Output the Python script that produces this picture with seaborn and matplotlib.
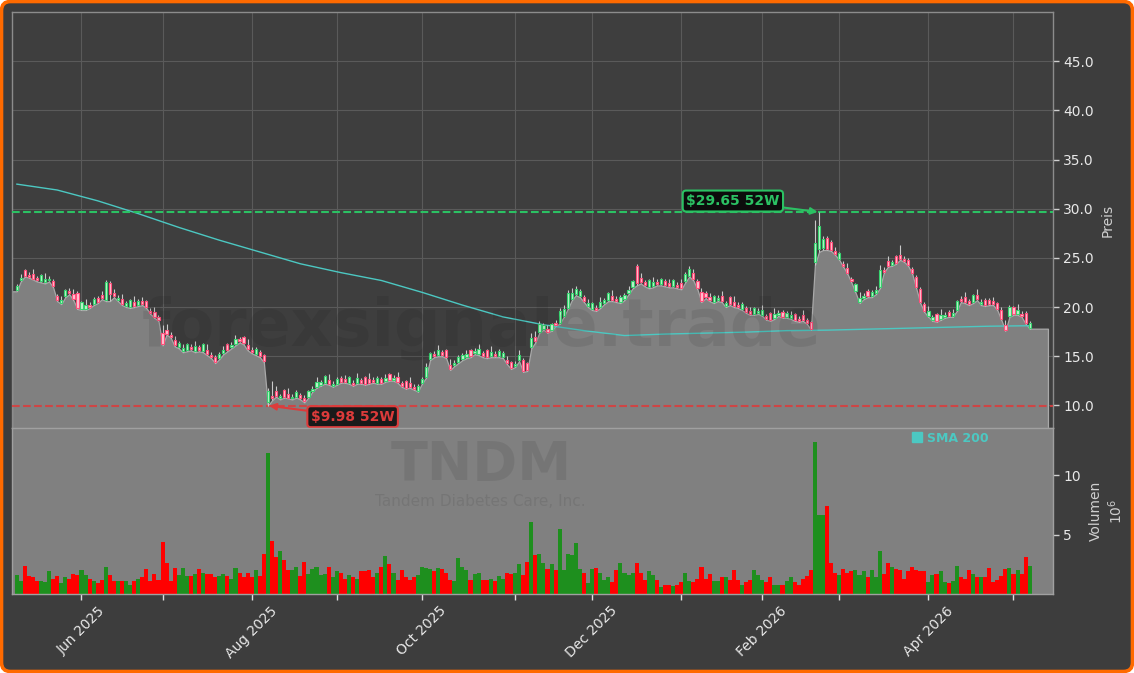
import numpy as np
import pandas as pd
import matplotlib
matplotlib.use("Agg")
import matplotlib.pyplot as plt
import seaborn as sns
from matplotlib.patches import FancyBboxPatch
from matplotlib.lines import Line2D
from matplotlib.ticker import FormatStrFormatter

# trading days (NYSE holidays removed)
start_day = "2025-05-08"
end_day = "2026-05-07"
market_holidays = ["2025-05-26", "2025-06-19", "2025-07-04", "2025-09-01", "2025-11-27",
                   "2025-12-25", "2026-01-01", "2026-01-19", "2026-02-16", "2026-04-03"]

lows = [21.6, 22.6, 23.1, 23.0, 22.8, 22.6, 22.5, 22.4, 22.6, 22.0,
        20.6, 20.3, 21.0, 21.3, 20.7, 19.8, 19.7, 19.7, 19.9, 20.2,
        20.4, 20.8, 20.6, 20.6, 21.0, 20.6, 20.2, 20.0, 19.9, 20.0,
        20.1, 20.2, 19.9, 19.3, 18.9, 18.6, 16.1, 17.2, 16.9, 16.0,
        15.8, 15.4, 15.5, 15.6, 15.4, 15.5, 15.4, 15.1, 14.8, 14.3,
        14.7, 15.2, 15.5, 15.8, 16.1, 16.4, 16.2, 15.6, 15.3, 15.1,
        14.9, 14.4, 9.98, 10.5, 10.9, 10.6, 10.8, 10.7, 10.6, 10.8,
        10.6, 10.3, 10.8, 11.4, 11.8, 12.0, 12.2, 12.1, 11.9, 12.1,
        12.3, 12.3, 12.2, 12.0, 12.2, 12.2, 12.1, 12.2, 12.3, 12.2,
        12.2, 12.4, 12.5, 12.5, 12.3, 11.9, 11.7, 11.8, 11.6, 11.4,
        12.2, 12.8, 14.6, 14.9, 15.0, 15.0, 14.8, 13.6, 14.0, 14.3,
        14.6, 14.8, 14.9, 15.2, 15.1, 14.9, 14.8, 14.9, 14.9, 14.9,
        14.8, 14.2, 13.7, 13.9, 14.5, 13.4, 13.5, 15.8, 16.4, 17.4,
        17.7, 17.4, 17.6, 18.1, 18.3, 19.0, 19.8, 20.7, 21.2, 21.0,
        20.5, 20.0, 19.7, 19.6, 19.9, 20.3, 20.6, 20.6, 20.5, 20.4,
        20.7, 21.3, 21.9, 22.2, 22.4, 22.1, 21.9, 22.0, 22.2, 22.2,
        22.1, 22.0, 22.0, 21.9, 21.8, 22.5, 23.1, 22.7, 21.8, 20.5,
        20.9, 20.6, 20.4, 20.6, 20.5, 20.0, 20.2, 20.0, 19.9, 19.7,
        19.4, 19.2, 19.2, 19.3, 19.1, 18.7, 18.6, 18.8, 19.1, 18.9,
        18.9, 18.8, 18.6, 18.5, 18.6, 18.3, 17.7, 24.3, 25.6, 25.8,
        25.8, 25.7, 25.3, 24.8, 24.1, 23.4, 22.5, 21.5, 20.4, 20.8,
        21.0, 21.0, 21.3, 21.9, 23.5, 24.1, 24.2, 24.4, 24.8, 24.6,
        24.2, 23.4, 21.9, 20.4, 19.5, 19.0, 18.6, 18.5, 18.7, 18.9,
        19.0, 19.0, 19.6, 20.5, 20.4, 20.2, 20.4, 20.7, 20.2, 20.1,
        20.2, 20.2, 19.7, 18.7, 17.6, 19.0, 19.2, 19.2, 19.0, 18.3, 17.8]

opens = [21.7, 22.7, 23.8, 23.3, 23.4, 23.0, 22.6, 22.5, 22.7, 22.6,
         21.1, 20.4, 21.1, 21.6, 21.3, 21.4, 19.8, 19.8, 20.2, 20.3,
         20.9, 21.2, 20.7, 22.4, 21.4, 20.7, 20.8, 20.1, 20.0, 20.5,
         20.2, 20.6, 20.6, 19.6, 19.5, 19.0, 17.4, 17.7, 17.2, 16.6,
         15.9, 15.5, 15.6, 15.9, 15.5, 15.9, 15.5, 15.6, 15.1, 14.9,
         14.8, 15.3, 16.2, 15.9, 16.2, 16.8, 17.0, 16.1, 15.6, 15.2,
         15.4, 15.1, 10.3, 11.0, 11.5, 10.7, 11.6, 11.2, 10.7, 10.9,
         11.1, 10.7, 10.9, 11.5, 11.9, 12.1, 12.3, 12.6, 12.0, 12.2,
         12.8, 12.7, 12.3, 12.3, 12.3, 12.6, 12.9, 12.7, 12.6, 12.3,
         12.7, 12.5, 13.2, 12.6, 12.9, 12.3, 12.5, 12.3, 11.9, 11.5,
         12.3, 12.9, 14.7, 15.2, 15.1, 15.4, 15.6, 14.1, 14.1, 14.4,
         14.7, 14.9, 15.6, 15.3, 15.2, 15.3, 15.6, 15.0, 15.2, 15.0,
         14.9, 14.6, 14.4, 14.0, 14.6, 14.6, 14.3, 15.9, 17.0, 17.5,
         17.8, 17.8, 17.7, 18.4, 18.4, 19.1, 19.9, 20.8, 21.3, 21.1,
         21.0, 20.1, 19.8, 19.9, 20.0, 20.4, 20.7, 21.1, 20.8, 20.5,
         20.8, 21.4, 22.0, 24.2, 23.0, 22.5, 22.0, 22.1, 22.5, 22.3,
         22.6, 22.4, 22.1, 22.2, 22.4, 22.6, 23.2, 23.5, 22.6, 21.5,
         21.4, 21.0, 20.5, 20.7, 21.1, 20.1, 21.0, 20.5, 20.2, 19.8,
         19.9, 19.6, 19.3, 19.4, 19.2, 19.1, 19.4, 18.9, 19.2, 19.5,
         19.0, 18.9, 19.3, 18.8, 19.2, 18.7, 18.5, 24.6, 25.9, 26.0,
         27.0, 26.6, 25.7, 24.9, 24.4, 24.0, 22.9, 21.6, 20.5, 20.9,
         21.6, 21.1, 21.4, 22.0, 23.8, 24.7, 24.3, 25.2, 25.3, 24.9,
         24.8, 23.9, 23.1, 21.8, 20.3, 19.1, 18.7, 19.3, 18.8, 19.0,
         19.5, 19.1, 19.7, 20.8, 21.0, 20.6, 20.5, 21.2, 20.3, 20.7,
         20.7, 20.6, 20.4, 19.7, 18.2, 19.1, 20.0, 19.3, 19.3, 19.4, 17.9]

closes = [22.1, 23.0, 23.2, 23.1, 22.9, 22.7, 23.3, 22.9, 22.9, 22.1,
          20.7, 20.7, 21.7, 21.4, 20.8, 19.9, 20.5, 20.2, 20.0, 20.8,
          20.5, 20.9, 22.5, 21.3, 21.1, 20.9, 20.3, 20.4, 20.7, 20.1,
          20.6, 20.3, 20.0, 19.4, 19.0, 18.7, 16.2, 17.3, 17.0, 16.1,
          16.3, 15.8, 16.2, 15.7, 16.0, 15.6, 16.2, 15.2, 14.9, 14.4,
          15.2, 15.6, 15.6, 16.1, 16.7, 16.5, 16.3, 15.7, 15.4, 15.7,
          15.0, 14.5, 11.5, 10.7, 11.0, 11.0, 10.9, 10.8, 10.9, 11.4,
          10.7, 10.4, 11.5, 11.7, 12.4, 12.4, 13.0, 12.2, 12.2, 12.7,
          12.4, 12.4, 12.9, 12.1, 12.8, 12.3, 12.2, 12.3, 12.4, 12.8,
          12.3, 12.8, 12.6, 12.8, 12.4, 12.0, 11.8, 11.9, 11.7, 12.0,
          12.7, 13.9, 15.3, 15.0, 15.6, 15.1, 14.9, 13.7, 14.3, 14.9,
          15.1, 15.2, 15.0, 15.5, 15.7, 15.0, 14.9, 15.4, 15.0, 15.5,
          15.3, 14.3, 13.8, 14.2, 15.1, 13.5, 13.6, 16.9, 16.5, 18.3,
          18.2, 17.5, 18.3, 18.2, 19.6, 19.8, 21.4, 21.4, 21.8, 21.6,
          20.6, 20.4, 20.4, 19.7, 20.5, 20.7, 21.4, 20.7, 20.6, 21.0,
          21.2, 21.7, 22.6, 22.4, 22.5, 22.2, 22.7, 22.5, 22.3, 22.8,
          22.2, 22.1, 22.7, 22.0, 21.9, 23.4, 23.9, 22.8, 21.9, 20.6,
          21.0, 20.7, 21.1, 20.9, 20.6, 20.4, 20.3, 20.1, 20.0, 20.3,
          19.5, 19.3, 19.9, 19.6, 19.7, 18.8, 18.7, 19.3, 19.4, 19.0,
          19.4, 19.2, 18.7, 18.6, 18.7, 18.4, 17.8, 26.5, 28.2, 26.9,
          25.9, 25.8, 25.4, 25.5, 24.2, 23.5, 22.6, 22.3, 20.9, 21.1,
          21.1, 21.5, 21.7, 23.8, 23.6, 24.2, 24.6, 24.5, 24.9, 24.7,
          24.3, 23.5, 22.0, 20.5, 19.6, 19.6, 19.0, 18.6, 19.2, 19.2,
          19.1, 19.4, 20.6, 20.6, 20.5, 20.3, 21.2, 20.8, 20.5, 20.2,
          20.3, 20.3, 19.8, 18.8, 17.7, 20.0, 19.3, 19.7, 19.1, 18.4, 18.4]

highs = [22.3, 23.4, 23.9, 23.6, 23.9, 23.2, 23.4, 23.5, 23.2, 22.8,
         21.3, 21.1, 21.8, 21.9, 21.8, 21.6, 20.6, 20.8, 20.5, 21.0,
         21.1, 21.6, 22.7, 22.6, 21.8, 21.2, 21.3, 20.6, 20.8, 21.1,
         20.8, 21.0, 20.7, 19.9, 20.0, 19.2, 18.2, 18.3, 17.5, 17.1,
         16.5, 16.2, 16.3, 16.2, 16.5, 16.1, 16.3, 16.2, 15.4, 15.1,
         15.4, 16.0, 16.3, 16.4, 17.2, 17.0, 17.1, 16.7, 15.9, 15.9,
         15.6, 15.2, 11.8, 12.5, 12.0, 11.2, 11.7, 11.8, 11.2, 11.6,
         11.3, 11.1, 11.6, 12.0, 12.9, 12.6, 13.1, 13.2, 12.5, 12.9,
         13.0, 13.1, 13.0, 12.6, 13.3, 12.8, 13.0, 13.3, 12.9, 13.0,
         12.9, 13.2, 13.3, 13.1, 13.4, 12.5, 12.6, 12.9, 12.2, 12.2,
         12.9, 14.3, 15.4, 15.5, 16.1, 15.6, 15.7, 14.7, 14.6, 15.1,
         15.3, 15.6, 15.7, 15.8, 16.2, 15.5, 15.7, 16.0, 15.5, 15.7,
         15.5, 15.0, 14.5, 14.5, 15.6, 14.8, 14.4, 17.4, 17.6, 18.6,
         18.4, 18.2, 18.4, 18.7, 19.9, 20.2, 21.7, 21.9, 22.1, 21.8,
         21.2, 20.8, 20.5, 20.2, 21.0, 20.9, 21.5, 21.7, 21.1, 21.2,
         21.4, 22.1, 22.7, 24.4, 23.5, 22.7, 22.8, 23.1, 22.8, 23.0,
         22.8, 22.8, 22.8, 22.5, 22.9, 23.6, 24.2, 23.9, 22.9, 21.9,
         21.6, 21.4, 21.2, 21.2, 21.6, 20.6, 21.1, 21.1, 20.5, 20.5,
         20.1, 20.0, 20.0, 19.9, 20.2, 19.3, 19.5, 19.9, 19.7, 19.7,
         19.6, 19.6, 19.4, 19.1, 19.7, 18.9, 18.6, 28.8, 29.65, 27.2,
         27.2, 26.8, 26.1, 25.6, 24.7, 24.5, 23.1, 22.4, 21.5, 21.4,
         21.8, 21.7, 22.1, 24.3, 24.1, 25.2, 24.8, 25.3, 26.3, 25.2,
         25.0, 24.1, 23.3, 22.0, 20.5, 20.1, 19.2, 19.4, 19.8, 19.5,
         19.7, 19.8, 20.7, 21.1, 21.5, 20.8, 21.3, 21.8, 20.8, 20.9,
         20.9, 21.0, 20.5, 20.0, 18.7, 20.2, 20.1, 20.3, 19.6, 19.6, 18.6]

# volume in millions of shares
volume_mio = [1.6, 1.1, 2.4, 1.5, 1.4, 1.1, 1.1, 1.0, 1.9, 1.3,
              1.5, 0.9, 1.4, 1.3, 1.7, 1.6, 2.0, 1.6, 1.3, 1.1,
              0.9, 1.2, 2.3, 1.6, 1.1, 1.1, 1.1, 1.1, 0.8, 1.1,
              1.3, 1.4, 2.1, 1.1, 1.7, 1.2, 4.4, 2.6, 1.1, 2.2,
              1.6, 2.2, 1.5, 1.5, 1.7, 2.1, 1.8, 1.7, 1.7, 1.4,
              1.5, 1.7, 1.5, 1.3, 2.2, 1.8, 1.4, 1.8, 1.4, 2.0,
              1.5, 3.4, 11.9, 4.5, 3.1, 3.6, 2.9, 2.0, 2.0, 2.3,
              1.5, 2.7, 1.7, 2.1, 2.3, 1.6, 1.7, 2.3, 1.4, 1.9,
              1.8, 1.3, 1.6, 1.4, 1.3, 1.9, 1.9, 2.0, 1.4, 1.8,
              2.3, 3.2, 2.5, 1.8, 1.2, 2.0, 1.4, 1.2, 1.4, 1.6,
              2.3, 2.2, 2.1, 1.9, 2.2, 2.1, 1.8, 1.2, 1.1, 3.0,
              2.3, 2.0, 1.2, 1.7, 1.8, 1.2, 1.2, 1.3, 1.1, 1.5,
              1.3, 1.8, 1.7, 1.8, 2.5, 1.6, 2.7, 6.1, 3.3, 3.4,
              2.6, 2.1, 2.5, 2.0, 5.5, 2.0, 3.4, 3.3, 4.3, 2.1,
              1.8, 0.9, 2.1, 2.2, 1.8, 1.2, 1.4, 1.0, 2.0, 2.6,
              1.8, 1.6, 1.8, 2.6, 1.8, 1.2, 1.9, 1.6, 1.2, 0.6,
              0.8, 0.8, 0.7, 0.8, 1.0, 1.8, 1.1, 1.0, 1.3, 2.3,
              1.3, 1.7, 1.1, 1.1, 1.4, 1.4, 1.2, 2.0, 1.2, 0.8,
              1.0, 1.2, 2.0, 1.6, 1.2, 1.0, 1.4, 0.8, 0.8, 0.8,
              1.1, 1.4, 1.0, 0.8, 1.3, 1.5, 2.0, 12.8, 6.7, 6.7,
              7.4, 2.6, 1.8, 1.6, 2.1, 1.8, 1.9, 2.0, 1.6, 1.9,
              1.4, 2.0, 1.4, 3.6, 1.7, 2.6, 2.3, 2.1, 2.0, 1.3,
              1.9, 2.3, 2.0, 1.9, 1.9, 1.0, 1.6, 1.7, 1.9, 1.0,
              0.9, 1.1, 2.4, 1.4, 1.3, 2.0, 1.7, 1.4, 1.4, 1.4,
              2.2, 1.0, 1.2, 1.5, 2.1, 2.2, 1.7, 2.0, 1.7, 3.1, 2.4]

# SMA 200 read every 10 trading days
sma_day = [0, 10, 20, 30, 40, 50, 60, 70, 80, 90, 100, 110, 120, 130, 140,
           150, 160, 170, 180, 190, 200, 210, 220, 230, 240, 250]
sma_200 = [32.5, 31.9, 30.8, 29.5, 28.1, 26.8, 25.6, 24.4, 23.5, 22.7, 21.5, 20.2, 19.0, 18.2, 17.6,
           17.1, 17.25, 17.35, 17.45, 17.6, 17.65, 17.75, 17.85, 17.95, 18.05, 18.1]

high_52w = 29.65
low_52w = 9.98
ticker = "TNDM"
company = "Tandem Diabetes Care, Inc."

dates = pd.bdate_range(start_day, end_day, freq="C", holidays=market_holidays)
n = min(len(dates), len(closes))
df = pd.DataFrame({"date": dates[:n], "open": opens[:n], "high": highs[:n],
                   "low": lows[:n], "close": closes[:n], "volume": volume_mio[:n]})
df["idx"] = np.arange(n)
df["dir"] = np.where(df["close"] >= df["open"], "up", "down")

# colours
bg = "#3e3e3e"
area = "#808080"
green = "#2bc163"
red = "#dd3b3b"
sma_col = "#4cc8c2"

sns.set_theme(style="darkgrid", rc={
    "axes.facecolor": bg,
    "axes.edgecolor": "#8c8c8c",
    "grid.color": "#5a5a5a",
    "grid.linewidth": 0.8,
    "text.color": "#e6e6e6",
    "axes.labelcolor": "#cfcfcf",
    "xtick.color": "#e6e6e6",
    "ytick.color": "#e6e6e6",
})
plt.rcParams["font.family"] = ["DejaVu Sans"]

fig = plt.figure(figsize=(11.34, 6.73), dpi=100)
fig.patch.set_facecolor("white")
frame = FancyBboxPatch((1.5, 1.5), 1131, 670, boxstyle="round,pad=0,rounding_size=9",
                       transform=None, facecolor="#3d3d3d", edgecolor="#ff6a00", lw=2.6, zorder=-1)
fig.add_artist(frame)

ax_p = fig.add_axes([12 / 1134, 1 - 428 / 673, 1041 / 1134, 416 / 673])
ax_v = fig.add_axes([12 / 1134, 1 - 594 / 673, 1041 / 1134, 166 / 673], sharex=ax_p)

x_left, x_right = -1.15, 255.75

# ---- price panel
ax_p.set_axisbelow(True)
fill_x = np.concatenate([[x_left], df["idx"], [df["idx"].iloc[-1] + 4.5]])
fill_y = np.concatenate([[df["low"].iloc[0]], df["low"], [df["low"].iloc[-1]]])
ax_p.fill_between(fill_x, fill_y, 0, facecolor=area, edgecolor="#a9a9a9", lw=0.9, zorder=1)

sns.lineplot(x=sma_day, y=sma_200, ax=ax_p, color=sma_col, lw=1.0, zorder=2.5)

ax_p.axhline(high_52w, color=green, ls="--", lw=1.5, zorder=2.6)
ax_p.axhline(low_52w, color=red, ls="--", lw=1.5, alpha=0.85, zorder=2.6)

up = df[df["dir"] == "up"]
dn = df[df["dir"] == "down"]
ax_p.vlines(df["idx"], df["low"], df["high"], color="#c9c9c9", lw=0.8, zorder=3)
ax_p.bar(up["idx"], up["close"] - up["open"], bottom=up["open"], width=0.55,
         color="#c2f2cf", edgecolor="#37d36f", lw=0.8, zorder=4)
ax_p.bar(dn["idx"], dn["open"] - dn["close"], bottom=dn["close"], width=0.55,
         color="#ffc4d2", edgecolor="#ff4f7b", lw=0.8, zorder=4)

hi_i = int(df["high"].idxmax())
lo_i = int(df["low"].idxmin())
ax_p.annotate("\\$%.2f 52W" % high_52w, xy=(hi_i, high_52w), xytext=(-62, 8),
              textcoords="offset points", ha="center", va="center",
              fontsize=10, fontweight="bold", color=green, zorder=10,
              bbox=dict(boxstyle="round,pad=0.25", fc="#0c0c0c", ec=green, lw=1.5),
              arrowprops=dict(arrowstyle="-|>", color=green, lw=1.5, shrinkA=0, shrinkB=1,
                              mutation_scale=10))
ax_p.annotate("\\$%.2f 52W" % low_52w, xy=(lo_i, low_52w), xytext=(61, -8),
              textcoords="offset points", ha="center", va="center",
              fontsize=10, fontweight="bold", color=red, zorder=10,
              bbox=dict(boxstyle="round,pad=0.25", fc="#1a1a1a", ec=red, lw=1.5),
              arrowprops=dict(arrowstyle="-|>", color=red, lw=1.5, shrinkA=0, shrinkB=1,
                              mutation_scale=10))

ax_p.set_ylim(7.7, 50.0)
ax_p.set_yticks(np.arange(10, 50, 5))
ax_p.yaxis.set_major_formatter(FormatStrFormatter("%.1f"))
ax_p.yaxis.tick_right()
ax_p.yaxis.set_label_position("right")
ax_p.set_ylabel("Preis", fontsize=10, color="#cfcfcf", labelpad=5)
ax_p.tick_params(axis="y", right=True, left=False, length=4, width=1, color="#d0d0d0",
                 labelsize=10, labelcolor="#e8e8e8")
ax_p.tick_params(axis="x", bottom=False, labelbottom=False, length=0)
ax_p.grid(True, color="#5a5a5a", lw=0.8)
for s in ax_p.spines.values():
    s.set_color("#8c8c8c")
    s.set_linewidth(1.0)

# ---- volume panel
ax_v.set_facecolor(area)
sns.barplot(data=df, x="idx", y="volume", hue="dir", palette={"up": "#1e8f1e", "down": "#ff0000"},
            native_scale=True, width=1.0, dodge=False, saturation=1, linewidth=0,
            errorbar=None, legend=False, ax=ax_v)
ax_v.grid(False)
ax_v.set_ylim(0, 14)
ax_v.set_yticks([5, 10])
ax_v.yaxis.tick_right()
ax_v.yaxis.set_label_position("right")
ax_v.set_ylabel("Volumen\n$10^{6}$", fontsize=10, color="#cfcfcf", labelpad=6)
ax_v.set_xlabel("")
ax_v.tick_params(axis="y", right=True, left=False, length=4, width=1, color="#d0d0d0",
                 labelsize=10, labelcolor="#e8e8e8")
for s in ax_v.spines.values():
    s.set_color("#a0a0a0")
    s.set_linewidth(1.0)

# monthly ticks, label every second month
firsts = df.groupby(df["date"].dt.to_period("M")).first()
firsts = firsts[firsts["date"].dt.day <= 5]
tick_pos = list(firsts["idx"])
tick_lab = [d.strftime("%b %Y") if d.month % 2 == 0 else "" for d in firsts["date"]]
ax_v.set_xticks(tick_pos)
ax_v.set_xticklabels(tick_lab, rotation=45, ha="center", fontsize=10, color="#e8e8e8")
ax_v.tick_params(axis="x", bottom=True, length=4, width=1, color="#e0e0e0", pad=3)
ax_v.set_xlim(x_left, x_right)

leg_handle = Line2D([], [], ls="", marker="s", ms=6.5, color=sma_col)
ax_v.legend([leg_handle], ["SMA 200"], loc="center left", bbox_to_anchor=(912 / 1134, 1 - 438 / 673),
            bbox_transform=fig.transFigure, frameon=False, prop={"weight": "bold", "size": 9},
            labelcolor=sma_col, handlelength=0.8, handletextpad=0.4, borderpad=0, borderaxespad=0)

# watermarks
fig.text(482 / 1134, 1 - 328 / 673, "forexsignale.trade", fontsize=47, fontweight="bold",
         color="black", alpha=0.08, ha="center", va="center")
fig.text(481 / 1134, 1 - 480 / 673, ticker, fontsize=39, fontweight="bold",
         color="black", alpha=0.08, ha="center", va="baseline")
fig.text(480 / 1134, 1 - 494 / 673, company, fontsize=11,
         color="black", alpha=0.08, ha="center", va="top")

fig.savefig("out.png", dpi=100)
